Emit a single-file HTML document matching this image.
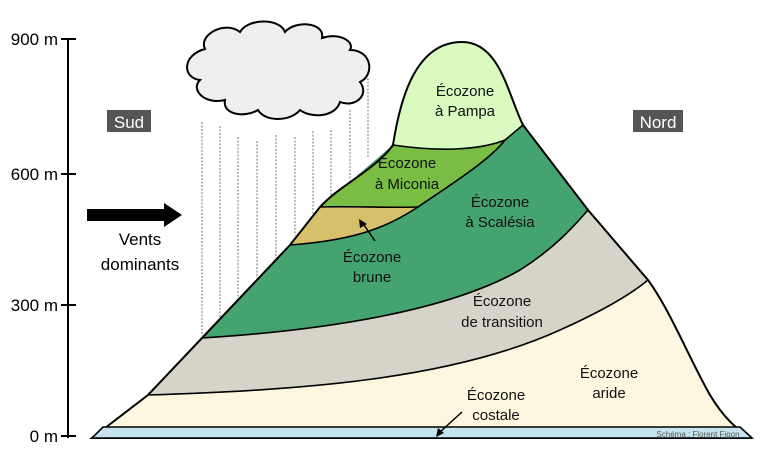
<!DOCTYPE html>
<html><head><meta charset="utf-8"><style>
html,body{margin:0;padding:0;background:#fff;}
svg{display:block;font-family:"Liberation Sans",sans-serif;}
</style></head><body>
<svg width="760" height="449" viewBox="0 0 760 449" xmlns="http://www.w3.org/2000/svg">
<g stroke="#000" stroke-width="2">
<line x1="68" y1="38" x2="68" y2="438"/>
<line x1="61" y1="39" x2="76" y2="39"/>
<line x1="61" y1="174" x2="76" y2="174"/>
<line x1="61" y1="305" x2="76" y2="305"/>
<line x1="61" y1="436" x2="76" y2="436"/>
</g>
<g font-size="17" text-anchor="end" fill="#000">
<text x="58" y="45">900 m</text>
<text x="58" y="180">600 m</text>
<text x="58" y="311">300 m</text>
<text x="58" y="442">0 m</text>
</g>
<rect x="107" y="110" width="44" height="22" fill="#555"/>
<text x="129" y="128" font-size="17" fill="#fff" text-anchor="middle">Sud</text>
<rect x="633" y="110" width="50" height="22" fill="#555"/>
<text x="658" y="128" font-size="17" fill="#fff" text-anchor="middle">Nord</text>
<rect x="87" y="209" width="78" height="12" fill="#000"/>
<polygon points="164,203 182,215 164,227" fill="#000"/>
<text x="140" y="245" font-size="17" text-anchor="middle">Vents</text>
<text x="140" y="270" font-size="17" text-anchor="middle">dominants</text>
<g stroke="#555" stroke-width="0.8" stroke-dasharray="2,1.5">
<line x1="202" y1="122" x2="202" y2="336"/>
<line x1="220" y1="126" x2="220" y2="318"/>
<line x1="238" y1="137" x2="238" y2="298"/>
<line x1="257" y1="141" x2="257" y2="278"/>
<line x1="276" y1="135" x2="276" y2="258"/>
<line x1="295" y1="137" x2="295" y2="236"/>
<line x1="313" y1="131" x2="313" y2="216"/>
<line x1="331" y1="130" x2="331" y2="195"/>
<line x1="350" y1="110" x2="350" y2="180"/>
<line x1="368" y1="78" x2="368" y2="158"/>
</g>
<path d="M205,49 C198,35 225,20 240,32 C248,18 280,18 285,32 C295,20 325,22 322,38 C340,32 355,42 350,50 C372,50 375,75 360,82 C370,95 355,108 340,102 C335,118 310,118 300,110 C290,122 265,122 258,110 C245,118 222,115 225,100 C205,105 190,90 200,80 C182,78 182,55 205,49 Z" fill="#efefef" stroke="#000" stroke-width="2"/>
<path d="M92,438 L148,395 L202,338 L290,245 L320,207 C340,185 375,170 393,145 C400,100 415,42 462,42 C500,42 508,95 523,125 L588,210 L648,280 C670,310 690,360 710,395 C725,420 740,432 752,438 Z" fill="#fdf7df"/>
<path d="M148,395 C300,390 450,380 560,330 C600,312 630,295 648,280 L588,210 L523,125 L393,145 L320,207 L290,245 L202,338 Z" fill="#d6d4c8"/>
<path d="M202,338 C330,330 450,310 520,270 C555,248 575,225 588,210 L523,125 L393,145 L320,207 L290,245 Z" fill="#45a370"/>
<path d="M320,207 C340,185 375,170 393,145 C440,152 480,150 505,140 C490,160 450,185 418,207 C380,208 350,206 320,207 Z" fill="#79bd45"/>
<path d="M320,207 C350,206 380,208 418,207 C390,225 360,240 290,245 Z" fill="#d7c06c"/>
<path d="M393,145 C400,100 415,42 462,42 C500,42 508,95 523,125 C515,133 510,137 505,140 C480,150 440,152 393,145 Z" fill="#d9fbc0"/>
<g fill="none" stroke="#000" stroke-width="1.6">
<path d="M148,395 C300,390 450,380 560,330 C600,312 630,295 648,280"/>
<path d="M202,338 C330,330 450,310 520,270 C555,248 575,225 588,210"/>
<path d="M290,245 C360,240 390,225 418,207 C450,185 490,160 505,140 L523,125"/>
<path d="M320,207 C350,206 380,208 418,207"/>
<path d="M393,145 C440,152 480,150 505,140"/>
<path d="M92,438 L148,395 L202,338 L290,245 L320,207 C340,185 375,170 393,145 C400,100 415,42 462,42 C500,42 508,95 523,125 L588,210 L648,280 C670,310 690,360 710,395 C725,420 740,432 752,438 Z" stroke-width="2"/>
</g>
<path d="M103,427 L740,427 L752,438 L92,438 Z" fill="#c5e4ef" stroke="#000" stroke-width="1.6"/>
<g stroke="#000" stroke-width="1.5">
<line x1="375" y1="241" x2="362" y2="222"/>
<line x1="462" y1="412" x2="440" y2="432"/>
</g>
<polygon points="359,219 367,224 360,228" fill="#000"/>
<polygon points="436,437 438,428 444,433" fill="#000"/>
<g font-size="15" text-anchor="middle" fill="#111">
<text x="465" y="96">Écozone</text>
<text x="465" y="116">à Pampa</text>
<text x="407" y="168">Écozone</text>
<text x="407" y="189">à Miconia</text>
<text x="500" y="207">Écozone</text>
<text x="500" y="227">à Scalésia</text>
<text x="372" y="262">Écozone</text>
<text x="372" y="282">brune</text>
<text x="502" y="306">Écozone</text>
<text x="502" y="327">de transition</text>
<text x="609" y="378">Écozone</text>
<text x="609" y="398">aride</text>
<text x="496" y="400">Écozone</text>
<text x="496" y="420">costale</text>
</g>
<text x="698" y="437" font-size="8" fill="#555" text-anchor="middle">Schéma : Florent Figon</text>
</svg>
</body></html>
